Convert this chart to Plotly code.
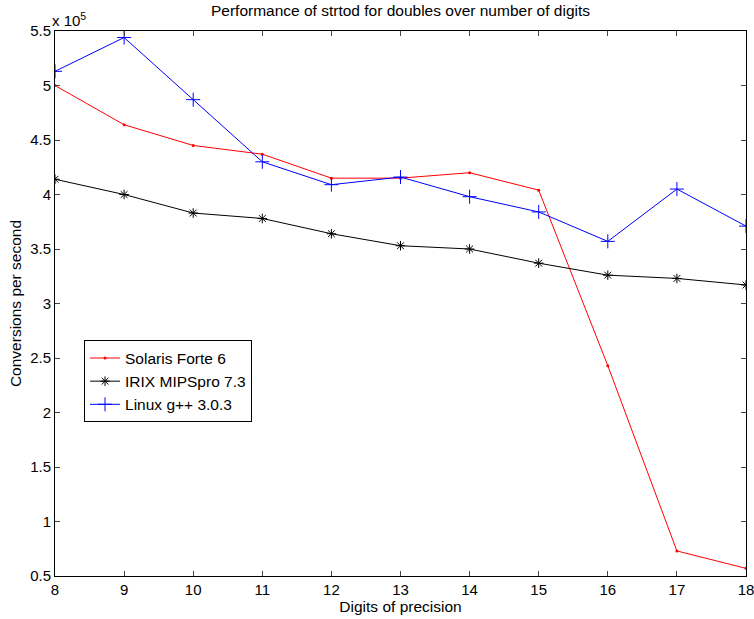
import plotly.graph_objects as go

digits = [8, 9, 10, 11, 12, 13, 14, 15, 16, 17, 18]
solaris = [5.00, 4.64, 4.45, 4.37, 4.15, 4.15, 4.20, 4.04, 2.43, 0.73, 0.57]
irix = [4.14, 4.00, 3.83, 3.78, 3.64, 3.53, 3.50, 3.37, 3.26, 3.23, 3.17]
linux = [5.13, 5.44, 4.87, 4.30, 4.09, 4.16, 3.98, 3.84, 3.57, 4.05, 3.71]
ytick_vals = [0.5, 1, 1.5, 2, 2.5, 3, 3.5, 4, 4.5, 5, 5.5]
ytick_text = ["0.5", "1", "1.5", "2", "2.5", "3", "3.5", "4", "4.5", "5", "5.5"]

font = "Liberation Sans, Arial, Helvetica, sans-serif"
fs = 15.5

fig = go.Figure()
fig.add_trace(go.Scatter(x=digits, y=solaris, mode="lines+markers", name="Solaris Forte 6",
                         line=dict(color="red", width=1),
                         marker=dict(symbol="circle", size=3, color="red")))
fig.add_trace(go.Scatter(x=digits, y=irix, mode="lines+markers", name="IRIX MIPSpro 7.3",
                         line=dict(color="black", width=1),
                         marker=dict(symbol="asterisk-open", size=8, color="black",
                                     line=dict(color="black", width=1))))
fig.add_trace(go.Scatter(x=digits, y=linux, mode="lines+markers", name="Linux g++ 3.0.3",
                         line=dict(color="blue", width=1),
                         marker=dict(symbol="cross-thin-open", size=10, color="blue",
                                     line=dict(color="blue", width=1))))

fig.update_layout(
    width=754, height=619,
    margin=dict(l=55, r=8, t=31, b=43, autoexpand=False),
    paper_bgcolor="white", plot_bgcolor="white",
    font=dict(family=font, size=fs, color="black"),
    title=dict(text="Performance of strtod for doubles over number of digits",
               x=0.5, xref="paper", xanchor="center", y=1 - 11 / 619, yanchor="middle",
               font=dict(size=fs, family=font)),
    legend=dict(x=0.042, y=0.357, xanchor="left", yanchor="middle",
                bordercolor="black", borderwidth=1, bgcolor="white",
                font=dict(size=fs), tracegroupgap=0, itemwidth=30),
    showlegend=True,
)
fig.update_xaxes(range=[8, 18], tickvals=digits, ticks="inside", ticklen=5,
                 showline=True, linecolor="black", linewidth=1, mirror="ticks",
                 showgrid=False, zeroline=False, tickfont=dict(size=15), automargin=False,
                 ticklabeloverflow="allow",
                 title=dict(text="Digits of precision", font=dict(size=fs), standoff=2))
fig.update_yaxes(range=[0.5, 5.5], tickvals=ytick_vals, ticktext=ytick_text,
                 ticks="inside", ticklen=5,
                 showline=True, linecolor="black", linewidth=1, mirror="ticks",
                 showgrid=False, zeroline=False, tickfont=dict(size=15), automargin=False,
                 ticklabeloverflow="allow",
                 title=dict(text="Conversions per second", font=dict(size=fs), standoff=4))
fig.add_annotation(text="x 10<sup>5</sup>", xref="paper", yref="paper", x=0, y=1,
                   xanchor="left", yanchor="bottom", showarrow=False,
                   font=dict(size=15), yshift=0, xshift=-5)

fig.write_html("out.html", config={"displayModeBar": False},
               post_script="document.body.style.margin='0';document.body.style.padding='0';"
                           "document.body.style.overflow='hidden';")
